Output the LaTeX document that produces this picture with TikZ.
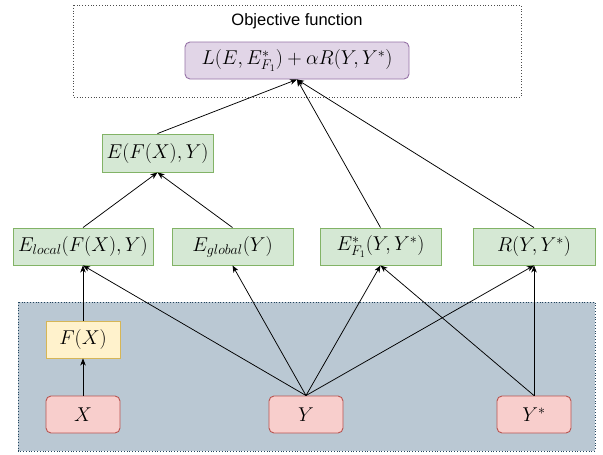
\RequirePackage{fix-cm}
\documentclass[tikz,border=0pt]{standalone}
\usepackage{fontspec}
\newfontfamily\sansf{Liberation Sans}
\usetikzlibrary{arrows.meta}
\definecolor{gfill}{HTML}{D5E8D4}
\definecolor{gdraw}{HTML}{82B366}
\definecolor{pfill}{HTML}{E1D5E7}
\definecolor{pdraw}{HTML}{9673A6}
\definecolor{yfill}{HTML}{FFF2CC}
\definecolor{ydraw}{HTML}{D6B656}
\definecolor{rfill}{HTML}{F8CECC}
\definecolor{rdraw}{HTML}{B85450}
\definecolor{panelfill}{HTML}{BAC8D3}
\definecolor{paneldraw}{HTML}{23445D}
\begin{document}
\begin{tikzpicture}[x=1pt,y=-1pt,
  box/.style={draw, line width=0.9pt, inner sep=0pt, minimum height=37pt,
    font=\fontsize{20}{24}\selectfont},
  gbox/.style={box, fill=gfill, draw=gdraw},
  pbox/.style={box, fill=pfill, draw=pdraw, rounded corners=5pt},
  ybox/.style={box, fill=yfill, draw=ydraw},
  rbox/.style={box, fill=rfill, draw=rdraw, rounded corners=5pt, minimum width=74pt},
  edge/.style={-{Stealth[length=7pt,width=5.5pt,inset=2pt]}, line width=0.75pt, black}
]
\useasboundingbox (0,0) rectangle (603,455);
% frames
\draw[dotted, line width=0.8pt, draw=black!70, fill=white] (73.5,5) rectangle (521,97);
\node[font=\sansf\fontsize{16.5}{20}\selectfont] (objtxt) at (297,21.5) {Objective function};
\draw[dotted, line width=0.8pt, draw=paneldraw, fill=panelfill] (18,302) rectangle (595,451);
% nodes
\node[pbox, minimum width=224pt] (L) at (297,60.5) {$L(E,E^*_{F_1})+\alpha R(Y,Y^*)$};
\node[gbox, minimum width=111pt, minimum height=38pt] (EFXY) at (157.5,153) {$E(F(X),Y)$};
\node[gbox, minimum width=140pt] (Eloc) at (83,246.5) {$E_{local}(F(X),Y)$};
\node[gbox, minimum width=121pt] (Eglob) at (232.5,246.5) {$E_{global}(Y)$};
\node[gbox, minimum width=121pt] (EF1) at (380.5,246.5) {$E^*_{F_1}(Y,Y^*)$};
\node[gbox, minimum width=122pt] (R) at (534,246.5) {$R(Y,Y^*)$};
\node[ybox, minimum width=74pt] (FX) at (83,339.5) {$F(X)$};
\node[rbox] (X) at (83,414.5) {$X$};
\node[rbox] (Y) at (306,414.5) {$Y$};
\node[rbox] (Ys) at (534,414.5) {$Y^*$};
% edges
\draw[edge] (X.north) -- (FX.south);
\draw[edge] (FX.north) -- (Eloc.south);
\draw[edge] (Y.north) -- (Eloc.south);
\draw[edge] (Y.north) -- (Eglob.south);
\draw[edge] (Y.north) -- (EF1.south);
\draw[edge] (Y.north) -- (R.south);
\draw[edge] (Ys.north) -- (EF1.south);
\draw[edge] (Ys.north) -- (R.south);
\draw[edge] (Eloc.north) -- (EFXY.south);
\draw[edge] (Eglob.north) -- (EFXY.south);
\draw[edge] (EFXY.north) -- (L.south);
\draw[edge] (EF1.north) -- (L.south);
\draw[edge] (R.north) -- (L.south);
\end{tikzpicture}
\end{document}
